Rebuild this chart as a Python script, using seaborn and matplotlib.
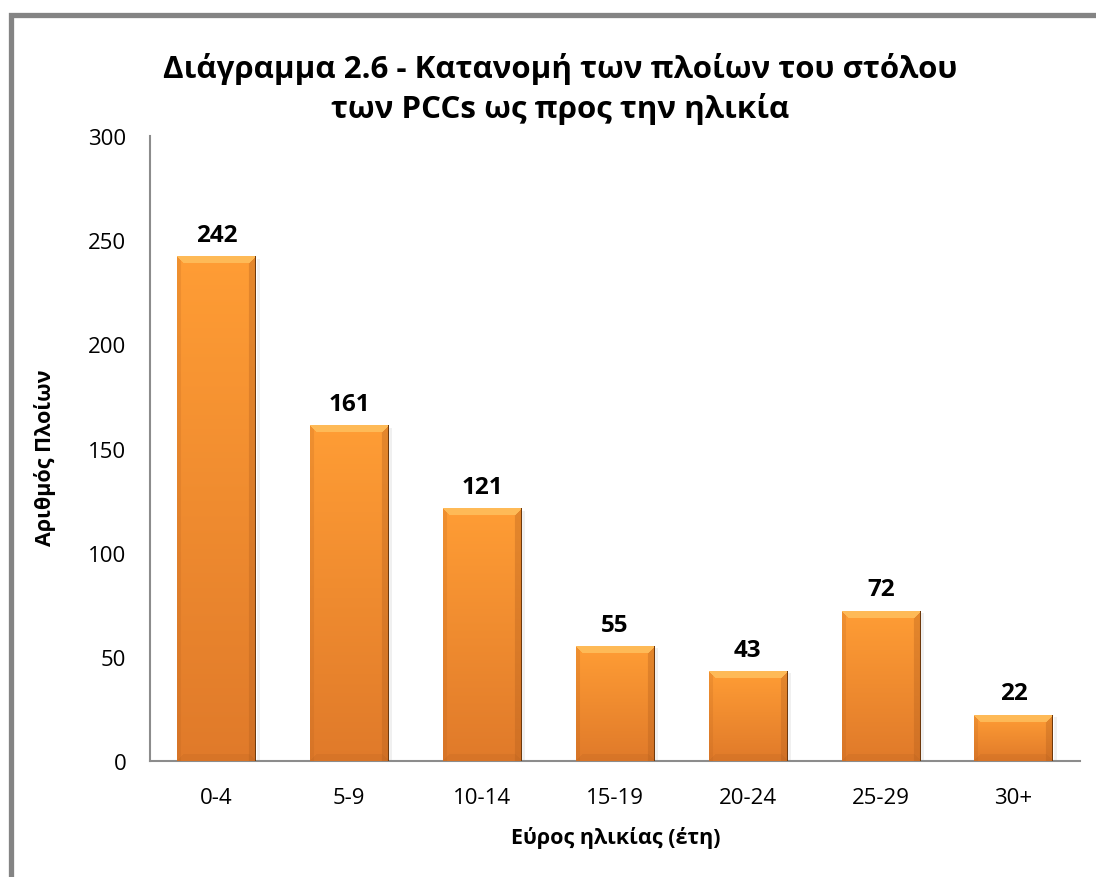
import numpy as np
import pandas as pd
import matplotlib
matplotlib.use("Agg")
import matplotlib.pyplot as plt
import matplotlib.patches as mpatches
from matplotlib.colors import to_rgb
import seaborn as sns

# Age brackets and fleet counts
age_groups = ["0-4", "5-9", "10-14", "15-19", "20-24", "25-29", "30+"]
ship_counts = [242, 161, 121, 55, 43, 72, 22]
y_ticks = [0, 50, 100, 150, 200, 250, 300]

title_text = "Διάγραμμα 2.6 - Κατανομή των πλοίων του στόλου\nτων PCCs ως προς την ηλικία"
x_label = "Εύρος ηλικίας (έτη)"
y_label = "Αριθμός Πλοίων"

sns.set_theme(style="white")
plt.rcParams["font.family"] = ["Open Sans", "DejaVu Sans"]
plt.rcParams["text.color"] = "black"
plt.rcParams["xtick.color"] = "black"
plt.rcParams["ytick.color"] = "black"

W, H, DPI = 1096, 878, 100
fig = plt.figure(figsize=(W / DPI, H / DPI), dpi=DPI)
fig.patch.set_facecolor("white")

# grey frame around the chart area
frame = mpatches.Rectangle((10.5 / W, -0.1), 1.2, 1.1 - 15.5 / H,
                           transform=fig.transFigure, fill=False,
                           edgecolor="#848484", linewidth=3.8, zorder=0)
fig.patches.append(frame)

ax_left, ax_right = 150 / W, 1080 / W
ax_bottom, ax_top = 1 - 762 / H, 1 - 137 / H
ax = fig.add_axes([ax_left, ax_bottom, ax_right - ax_left, ax_top - ax_bottom])

df = pd.DataFrame({"age": age_groups, "count": ship_counts})
bar_w = 0.59
sns.barplot(data=df, x="age", y="count", color="#F28C2C", width=bar_w,
            ax=ax, zorder=2, saturation=1)

ax.set_xlim(-0.5, len(age_groups) - 0.5)
ax.set_ylim(0, 300)

# pixel sizes for the bevel shading
ax_h_px = (ax_top - ax_bottom) * H
ax_w_px = (ax_right - ax_left) * W
units_per_px_y = 300 / ax_h_px
units_per_px_x = len(age_groups) / ax_w_px

top_c = np.array(to_rgb("#FF9D35"))
bot_c = np.array(to_rgb("#E07A2A"))
hi_c = np.array(to_rgb("#FFCB6A"))
dark_c = np.array(to_rgb("#B35E1C"))

for patch in ax.patches:
    x0 = patch.get_x()
    w = patch.get_width()
    h = patch.get_height()
    px_w = max(int(round(w / units_per_px_x)), 2)
    px_h = max(int(round(h / units_per_px_y)), 2)
    t = np.linspace(0, 1, px_h)[:, None, None]
    img = top_c * (1 - t) + bot_c * t
    img = np.broadcast_to(img, (px_h, px_w, 3)).copy()
    bev = 7
    rows = np.arange(px_h)[:, None]
    cols = np.arange(px_w)[None, :]
    # top bevel (trapezoid highlight)
    top_mask = (rows < bev) & (cols >= rows) & (cols < px_w - rows)
    img[top_mask] = img[top_mask] * 0.35 + hi_c * 0.65
    # right bevel (darker)
    right_mask = (cols >= px_w - bev) & ~top_mask
    img[right_mask] = img[right_mask] * 0.65 + dark_c * 0.35
    # left bevel (slightly darker)
    left_mask = (cols < 4) & ~top_mask
    img[left_mask] = img[left_mask] * 0.8 + dark_c * 0.2
    # bottom bevel
    bot_mask = (rows >= px_h - bev) & (cols >= px_h - 1 - rows) & (cols < px_w - (px_h - 1 - rows))
    img[bot_mask] = img[bot_mask] * 0.8 + dark_c * 0.2
    # thin dark outline on the right edge
    img[:, -1] = np.array(to_rgb("#6E3A0E"))
    ax.imshow(img, extent=(x0, x0 + w, 0, h), aspect="auto",
              interpolation="bilinear", zorder=3, origin="upper")
    # soft shadow to the right
    ax.add_patch(mpatches.Rectangle((x0 + w, 0), 4 * units_per_px_x, h - 2 * units_per_px_y,
                                    facecolor="#000000", alpha=0.06,
                                    edgecolor="none", zorder=1))

ax.set_xlim(-0.5, len(age_groups) - 0.5)
ax.set_ylim(0, 300)

for i, v in enumerate(ship_counts):
    ax.annotate(f"{v}", (i, v), xytext=(0, 7), textcoords="offset points",
                ha="center", va="bottom", fontsize=17.5, fontweight="bold",
                color="black")

ax.set_yticks(y_ticks)
ax.set_yticklabels([str(v) for v in y_ticks])
ax.tick_params(axis="y", length=0, pad=17, labelsize=16, colors="black")
ax.tick_params(axis="x", length=0, pad=19, labelsize=16, colors="black")
ax.set_xlabel("")
ax.set_ylabel("")

for side in ["top", "right"]:
    ax.spines[side].set_visible(False)
for side in ["left", "bottom"]:
    ax.spines[side].set_color("#8C8C8C")
    ax.spines[side].set_linewidth(1.5)
ax.grid(False)

fig.text(560 / W, 1 - 89 / H, title_text, ha="center", va="center",
         fontsize=22.5, fontweight="bold", linespacing=1.35)
fig.text(616 / W, 1 - 838 / H, x_label, ha="center", va="center",
         fontsize=15.5, fontweight="bold")
fig.text(45 / W, 1 - 458 / H, y_label, ha="center", va="center",
         rotation=90, fontsize=15.5, fontweight="bold")

fig.savefig("out.png", dpi=DPI)
